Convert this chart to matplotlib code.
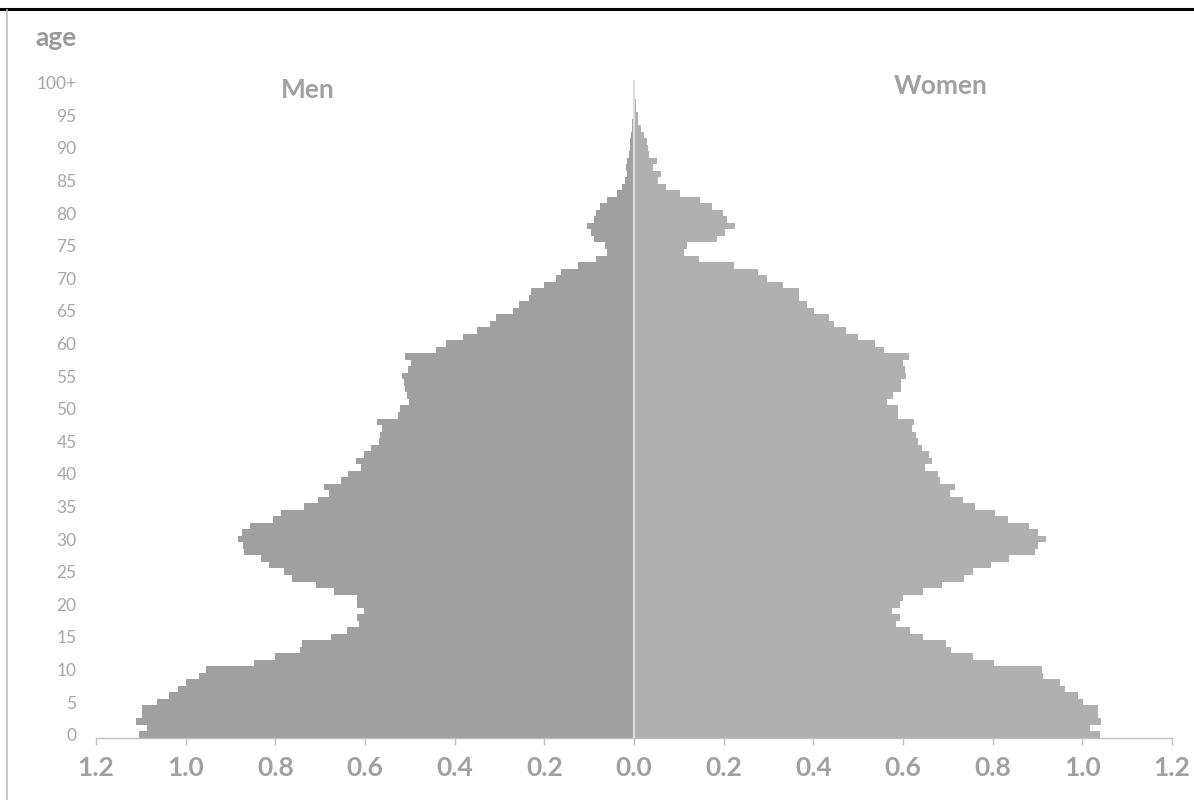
import numpy as np
import matplotlib
matplotlib.use("Agg")
import matplotlib.pyplot as plt
from matplotlib.lines import Line2D

plt.rcParams['font.family'] = ['Lato', 'DejaVu Sans']

ages = list(range(101))
age_labels = [str(a) for a in range(0, 100, 5)] + ["100+"]

men = [1.104, 1.086, 1.111, 1.098, 1.098, 1.064, 1.037, 1.017, 0.999, 0.971,
       0.955, 0.847, 0.801, 0.746, 0.740, 0.676, 0.640, 0.613, 0.617, 0.602,
       0.618, 0.618, 0.670, 0.710, 0.762, 0.781, 0.815, 0.833, 0.871, 0.873,
       0.883, 0.875, 0.857, 0.805, 0.788, 0.736, 0.704, 0.680, 0.691, 0.653,
       0.639, 0.609, 0.620, 0.602, 0.586, 0.569, 0.566, 0.562, 0.574, 0.526,
       0.521, 0.502, 0.506, 0.510, 0.514, 0.517, 0.505, 0.497, 0.510, 0.441,
       0.419, 0.382, 0.350, 0.321, 0.307, 0.271, 0.257, 0.234, 0.230, 0.201,
       0.173, 0.163, 0.124, 0.084, 0.060, 0.064, 0.090, 0.096, 0.104, 0.090,
       0.084, 0.076, 0.060, 0.037, 0.026, 0.020, 0.016, 0.018, 0.016, 0.012,
       0.010, 0.008, 0.006, 0.005, 0.004, 0.003, 0.002, 0.002, 0.001, 0.001,
       0.001]

women = [1.039, 1.016, 1.042, 1.036, 1.036, 1.002, 0.990, 0.962, 0.950, 0.913,
         0.911, 0.803, 0.757, 0.708, 0.697, 0.645, 0.615, 0.585, 0.593, 0.575,
         0.593, 0.599, 0.645, 0.687, 0.736, 0.757, 0.796, 0.837, 0.895, 0.900,
         0.920, 0.900, 0.880, 0.835, 0.805, 0.761, 0.734, 0.704, 0.717, 0.683,
         0.679, 0.649, 0.665, 0.657, 0.643, 0.633, 0.629, 0.621, 0.625, 0.589,
         0.589, 0.564, 0.578, 0.595, 0.595, 0.607, 0.605, 0.601, 0.614, 0.558,
         0.537, 0.499, 0.473, 0.445, 0.434, 0.401, 0.386, 0.367, 0.367, 0.332,
         0.296, 0.277, 0.223, 0.144, 0.111, 0.119, 0.186, 0.202, 0.226, 0.207,
         0.199, 0.175, 0.148, 0.102, 0.071, 0.053, 0.060, 0.042, 0.052, 0.034,
         0.032, 0.028, 0.022, 0.015, 0.010, 0.008, 0.005, 0.004, 0.002, 0.001,
         0.001]

xticks = [-1.2, -1.0, -0.8, -0.6, -0.4, -0.2, 0.0, 0.2, 0.4, 0.6, 0.8, 1.0, 1.2]

men_color = '#a0a0a0'
women_color = '#b0b0b0'
text_gray = '#a0a0a0'

fig = plt.figure(figsize=(11.94, 8.0), dpi=100)
ax = fig.add_axes([96 / 1194, 1 - 738 / 800, (1172 - 96) / 1194, (738 - 79.5) / 800])

# no edges + no antialiasing so neighbouring bars join without seams
ax.barh(ages, -np.array(men), height=1.0, color=men_color, linewidth=0, antialiased=False)
ax.barh(ages, women, height=1.0, color=women_color, linewidth=0, antialiased=False)
ax.axvline(0, color='#dcdcdc', lw=1.6, zorder=5)

ax.set_xlim(-1.2, 1.2)
ax.set_ylim(-0.5, 100.5)

ax.set_xticks(xticks)
ax.set_xticklabels([f"{abs(v):.1f}" for v in xticks], fontsize=19, fontweight='bold', color=text_gray)
ax.tick_params(axis='x', direction='out', length=5, width=1, color='#bfbfbf', pad=8)

ax.set_yticks(range(0, 101, 5))
ax.set_yticklabels(age_labels, fontsize=12.5, color='#a6a6a6')
ax.tick_params(axis='y', length=0, pad=14)

for s in ['top', 'right', 'left']:
    ax.spines[s].set_visible(False)
ax.spines['bottom'].set_color('#bfbfbf')
ax.spines['bottom'].set_linewidth(1)

fig.text(35 / 1194, 1 - 38 / 800, "age", fontsize=19, fontweight='bold', color='#999999', va='center', ha='left')
fig.text(308 / 1194, 1 - 90 / 800, "Men", fontsize=19, fontweight='bold', color=text_gray, va='center', ha='center')
fig.text(941 / 1194, 1 - 86 / 800, "Women", fontsize=19, fontweight='bold', color=text_gray, va='center', ha='center')

# frame lines of the original screenshot
fig.add_artist(Line2D([0, 1], [1 - 8.5 / 800, 1 - 8.5 / 800], color='black', lw=2.2))
fig.add_artist(Line2D([7 / 1194, 7 / 1194], [0, 1 - 10 / 800], color='#c0c0c0', lw=1.2))

fig.savefig("out.png", dpi=100)
